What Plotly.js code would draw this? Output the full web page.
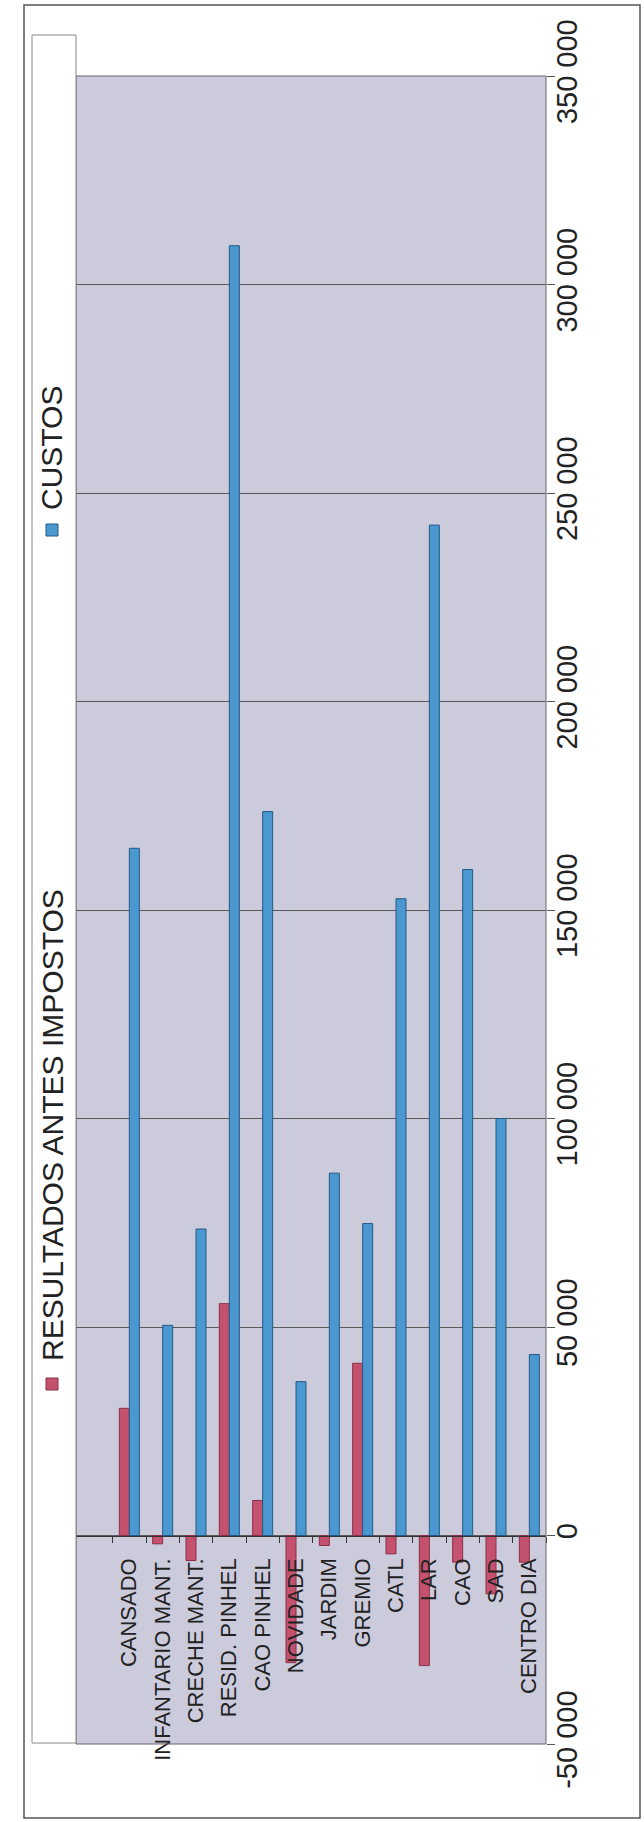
<!DOCTYPE html>
<html>
<head>
<meta charset="utf-8">
<script src="https://cdn.plot.ly/plotly-3.0.1.min.js"></script>
<style>
  html, body { margin: 0; padding: 0; background: #ffffff; }
  #chart { width: 644px; height: 1822px; }
</style>
</head>
<body>
<div id="chart"></div>
<script>
// ---- data ----
const categories = ['CANSADO', 'INFANTARIO MANT.', 'CRECHE MANT.', 'RESID. PINHEL', 'CAO PINHEL',
  'NOVIDADE', 'JARDIM', 'GREMIO', 'CATL', 'LAR', 'CAO', 'SAD', 'CENTRO DIA'];
const resultados = [30500, -2000, -6000, 55600, 8400, -30500, -2400, 41300, -4400, -31200, -6400, -14000, -6400];
const custos = [164800, 50400, 73500, 309300, 173600, 36900, 86900, 74800, 152700, 242300, 159700, 100000, 43400];
const seriesNames = ['RESULTADOS ANTES IMPOSTOS', 'CUSTOS'];
const valueTicks = [-50000, 0, 50000, 100000, 150000, 200000, 250000, 300000, 350000];
const valueTickLabels = ['-50 000', '0', '50 000', '100 000', '150 000', '200 000', '250 000', '300 000', '350 000'];

// ---- layout geometry (pixels) ----
const W = 644, H = 1822;
const M = { l: 76, r: 98, t: 76, b: 78 };
const pw = W - M.l - M.r, ph = H - M.t - M.b;
const px = x => (x - M.l) / pw;
const py = y => (H - M.b - y) / ph;

const redFill = '#c4526f', redLine = '#8a2f4b';
const blueFill = '#4a98cf', blueLine = '#245a86';
const font = 'Liberation Sans, Arial, sans-serif';

const traces = [
  { type: 'bar', name: seriesNames[0], x: categories, y: resultados,
    marker: { color: redFill, line: { color: redLine, width: 1 } } },
  { type: 'bar', name: seriesNames[1], x: categories, y: custos,
    marker: { color: blueFill, line: { color: blueLine, width: 1 } } }
];

const yMin = valueTicks[0], yMax = valueTicks[valueTicks.length - 1];

const layout = {
  width: W, height: H,
  margin: M,
  paper_bgcolor: '#ffffff',
  plot_bgcolor: '#cbcbdc',
  font: { family: font, color: '#222' },
  showlegend: false,
  barmode: 'group',
  bargap: 0.4,
  bargroupgap: 0,
  xaxis: {
    type: 'category',
    range: [-1.6, 12.5],
    anchor: 'free',
    position: (0 - yMin) / (yMax - yMin),
    showline: true, linecolor: '#333', linewidth: 1,
    ticks: 'outside', tickson: 'boundaries', ticklen: 6, tickcolor: '#333',
    tickangle: -90,
    ticklabelstandoff: 13,
    tickfont: { size: 22, color: '#222', family: font },
    showgrid: false, zeroline: false
  },
  yaxis: {
    range: [yMin, yMax],
    side: 'right',
    tickvals: valueTicks,
    ticktext: valueTickLabels,
    tickangle: -90,
    ticklabelstandoff: -13,
    tickfont: { size: 29, color: '#222', family: font },
    ticks: 'outside', ticklen: 8, tickcolor: '#555',
    showgrid: true, gridcolor: '#5a5a5a', gridwidth: 1,
    zeroline: false, showline: false
  },
  shapes: [
    // outer chart border
    { type: 'rect', xref: 'paper', yref: 'paper', layer: 'below',
      x0: px(24), x1: px(640), y0: py(1818), y1: py(5),
      line: { color: '#555', width: 1.5 }, fillcolor: 'rgba(0,0,0,0)' },
    // plot area border
    { type: 'rect', xref: 'paper', yref: 'paper', layer: 'above',
      x0: 0, x1: 1, y0: 0, y1: 1,
      line: { color: '#666', width: 1 }, fillcolor: 'rgba(0,0,0,0)' },
    // legend box
    { type: 'rect', xref: 'paper', yref: 'paper', layer: 'above',
      x0: px(32), x1: px(76), y0: py(1743), y1: py(35),
      line: { color: '#888', width: 1 }, fillcolor: '#ffffff' },
    // legend swatches
    { type: 'rect', xref: 'paper', yref: 'paper', layer: 'above',
      x0: px(46), x1: px(58), y0: py(1390), y1: py(1378),
      line: { color: redLine, width: 1 }, fillcolor: redFill },
    { type: 'rect', xref: 'paper', yref: 'paper', layer: 'above',
      x0: px(46), x1: px(58), y0: py(536), y1: py(524),
      line: { color: blueLine, width: 1 }, fillcolor: blueFill }
  ],
  annotations: [
    { xref: 'paper', yref: 'paper', x: px(52), y: py(1125), text: seriesNames[0],
      textangle: -90, showarrow: false, xanchor: 'center', yanchor: 'middle',
      font: { size: 30, color: '#222', family: font } },
    { xref: 'paper', yref: 'paper', x: px(52), y: py(448), text: seriesNames[1],
      textangle: -90, showarrow: false, xanchor: 'center', yanchor: 'middle',
      font: { size: 30, color: '#222', family: font } }
  ]
};

Plotly.newPlot('chart', traces, layout, { staticPlot: true, displayModeBar: false });
</script>
</body>
</html>
